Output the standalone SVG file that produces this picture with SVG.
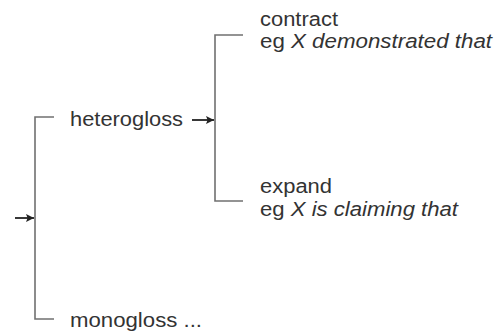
<svg xmlns="http://www.w3.org/2000/svg" width="496" height="336" viewBox="0 0 496 336">
  <style>
    .t { font-family: "Liberation Sans", Arial, sans-serif; font-size: 20px; fill: #333; }
    .i { font-style: italic; }
    .br { fill: none; stroke: #707070; stroke-width: 1.6; }
    .ar { fill: none; stroke: #222; stroke-width: 1.8; }
  </style>
  <defs>
    <marker id="ah" viewBox="0 0 10 10" refX="10" refY="5" markerWidth="9" markerHeight="8" markerUnits="userSpaceOnUse" orient="auto">
      <path d="M0,0 L10,5 L0,10 L2,5 Z" fill="#222"/>
    </marker>
  </defs>
  <rect width="496" height="336" fill="#fff"/>
  <g id="connectors">
    <path class="br" d="M54,117 H35 V319 H54"/>
    <path class="br" d="M243,35 H215 V201 H243"/>
    <line class="ar" x1="15" y1="218" x2="34" y2="218" marker-end="url(#ah)"/>
    <line class="ar" x1="192" y1="120" x2="214" y2="120" marker-end="url(#ah)"/>
  </g>
  <g id="heterogloss">
    <text class="t" x="70" y="126" textLength="113" lengthAdjust="spacingAndGlyphs">heterogloss</text>
  </g>
  <g id="monogloss">
    <text class="t" x="70" y="327" textLength="132" lengthAdjust="spacingAndGlyphs">monogloss ...</text>
  </g>
  <g id="contract">
    <text class="t" x="260" y="26" textLength="78" lengthAdjust="spacingAndGlyphs">contract</text>
    <text class="t" x="260" y="48" textLength="232" lengthAdjust="spacingAndGlyphs">eg <tspan class="i">X demonstrated that</tspan></text>
  </g>
  <g id="expand">
    <text class="t" x="260" y="193" textLength="72" lengthAdjust="spacingAndGlyphs">expand</text>
    <text class="t" x="260" y="216" textLength="198" lengthAdjust="spacingAndGlyphs">eg <tspan class="i">X is claiming that</tspan></text>
  </g>
</svg>
